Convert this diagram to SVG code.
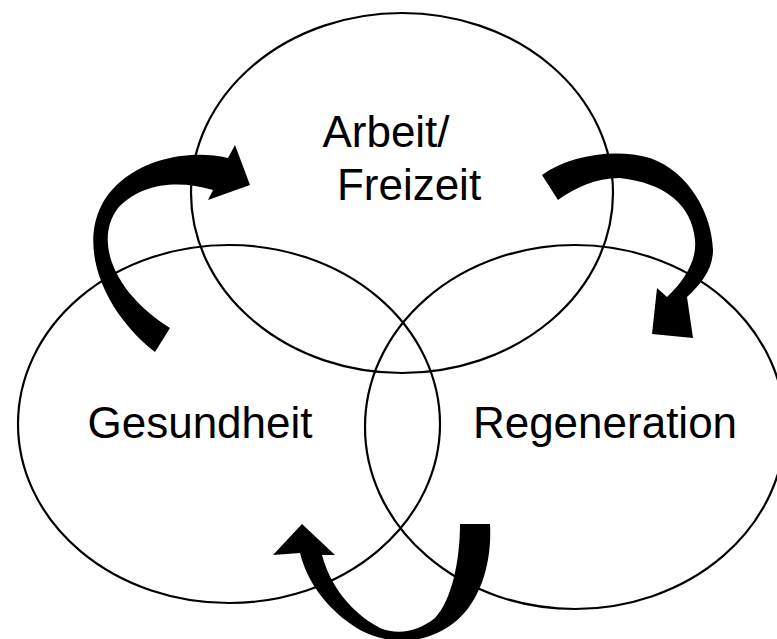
<svg xmlns="http://www.w3.org/2000/svg" width="777" height="639" viewBox="0 0 777 639">
<style>
.c{fill:none;stroke:#000;stroke-width:2.2}
.t{font-family:"Liberation Sans",Arial,sans-serif;font-size:44px;fill:#000;text-anchor:middle}
.a{fill:#000;stroke:none}
</style>
<rect width="777" height="639" fill="#fff"/>
<g id="node-arbeit">
<ellipse class="c" cx="402" cy="193" rx="211" ry="180"/>
<text class="t" x="386" y="147">Arbeit/</text>
<text class="t" x="409" y="200">Freizeit</text>
</g>
<g id="node-gesundheit">
<ellipse class="c" cx="229" cy="424" rx="211" ry="179"/>
<text class="t" x="200" y="438">Gesundheit</text>
</g>
<g id="node-regeneration">
<ellipse class="c" cx="575" cy="427" rx="210" ry="182"/>
<text class="t" x="605" y="438">Regeneration</text>
</g>
<g id="connectors">
<path class="a" d="M155,352 C95,305 70,225 120,182 C150,156 195,150 228,158 L235,145 L250,185 L208,200 L213,190 C180,180 142,182 118,208 C95,238 110,290 170,328 Z"/>
<path class="a" d="M542,175 C570,155 615,148 650,158 C690,172 712,215 713,250 C713,270 700,285 687,297 L693,338 L652,334 L657,288 L667,297 C685,280 697,260 695,240 C692,205 665,183 620,178 C595,178 575,188 558,200 Z"/>
<path class="a" d="M490,524 C492,560 482,600 455,622 C430,642 395,648 360,630 C330,612 308,585 300,553 L273,555 L302,524 L335,555 L322,555 C330,585 350,612 380,628 C400,636 420,630 435,618 C452,600 460,560 460,524 Z"/>
</g>
</svg>
